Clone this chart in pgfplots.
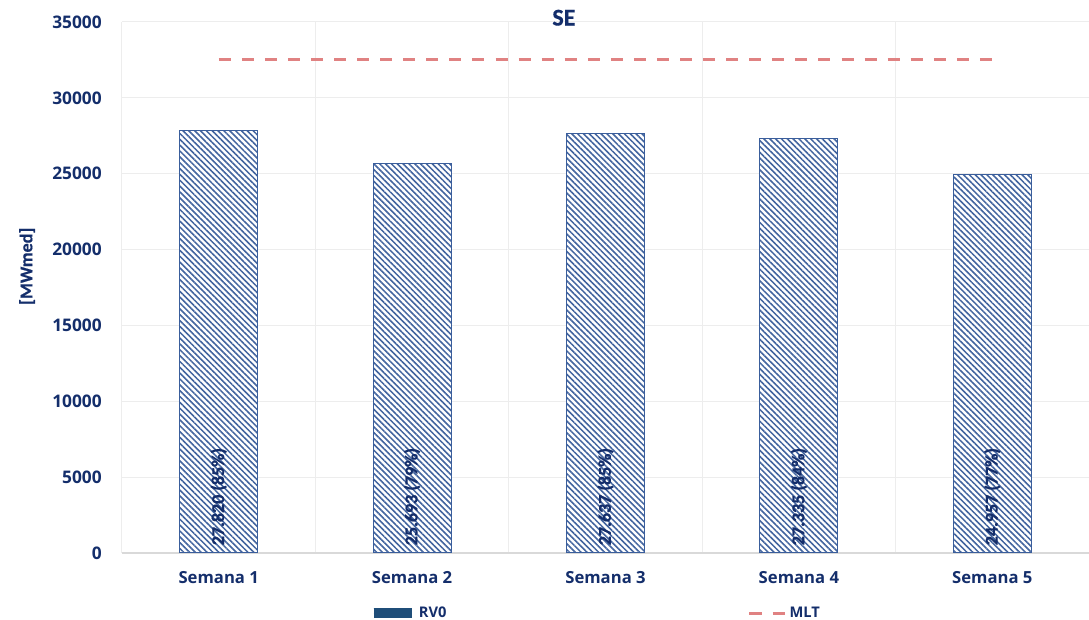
\documentclass[border=0pt]{standalone}
\usepackage{fontspec}
\setmainfont{Open Sans}
\newfontfamily\carlito{Carlito}[BoldFeatures={FakeBold=0.6}]
\usepackage{pgfplots}
\pgfplotsset{compat=1.18}
\usetikzlibrary{patterns.meta}
\definecolor{navy}{HTML}{142E6B}
\definecolor{barline}{HTML}{3A5E9C}
\definecolor{hatch}{HTML}{42649F}
\definecolor{rvfill}{HTML}{1F4E79}
\definecolor{mlt}{HTML}{E08282}
\definecolor{gridc}{HTML}{EDEDED}

\begin{document}
\begin{tikzpicture}
% 1 px of the reference = 0.75pt
\useasboundingbox (-91.5pt,-50.25pt) rectangle (725.25pt,414.75pt);
\begin{axis}[
  scale only axis, width=725.25pt, height=398.25pt,
  xmin=-0.5, xmax=4.5, ymin=0, ymax=35000,
  xtick={0,1,2,3,4},
  xticklabels={Semana 1,Semana 2,Semana 3,Semana 4,Semana 5},
  minor xtick={-0.5,0.5,1.5,2.5,3.5},
  ytick={0,5000,...,35000},
  scaled y ticks=false,
  /pgf/number format/.cd, 1000 sep={}, assume math mode=true, /pgfplots/.cd,
  ymajorgrids, xminorgrids,
  major grid style={gridc, line width=0.75pt},
  minor grid style={gridc, line width=0.75pt},
  major tick length=0pt, minor tick length=0pt,
  axis x line*=bottom, axis y line*=left,
  x axis line style={draw=black!15, line width=0.9pt},
  y axis line style={draw=none},
  tick label style={text=navy, inner sep=0pt},
  yticklabel style={font=\bfseries\fontsize{13}{15}\selectfont, xshift=-15pt},
  xticklabel style={font=\bfseries\fontsize{12.5}{15}\selectfont, yshift=-14pt},
  ylabel={[MWmed]},
  ylabel style={at={(-0.0982,0.54)}, anchor=center,
    font=\carlito\bfseries\fontsize{13.6}{16}\selectfont, text=navy},
  title={SE},
  title style={at={(0.457,0.993)}, anchor=center,
    font=\carlito\bfseries\fontsize{18}{20}\selectfont, text=navy},
  legend style={at={(0.49,-0.113)}, anchor=center, draw=none, fill=none,
    font=\bfseries\fontsize{11}{13}\selectfont, text=navy,
    legend columns=2,
    /tikz/every even column/.append style={column sep=224pt}},
  legend cell align=left,
]
\addplot[ybar, bar width=58.5pt, bar shift=0pt, draw=barline, line width=0.8pt,
  fill=white,
  postaction={pattern={Lines[angle=-45,distance=3.1pt,line width=1.15pt]}, pattern color=hatch},
  legend image code/.code={\draw[draw=rvfill, line width=6.8pt] (0pt,0pt) -- (28.5pt,0pt);}]
  coordinates {(0,27820) (1,25693) (2,27637) (3,27335) (4,24957)};
\addlegendentry{RV0}
\addplot[forget plot, draw=none, mark=none, point meta=explicit symbolic,
  nodes near coords,
  nodes near coords style={rotate=90, anchor=west, inner sep=0pt, text=navy,
    font=\carlito\bfseries\fontsize{13.5}{16}\selectfont}]
  coordinates {(0,500)[27.820 (85\%)] (1,500)[25.693 (79\%)] (2,500)[27.637 (85\%)]
               (3,500)[27.335 (84\%)] (4,500)[24.957 (77\%)]};
\addplot[mlt, line width=2.25pt, dash pattern=on 9pt off 8.3pt, mark=none,
  legend image code/.code={\draw[mlt, line width=2.25pt, dash pattern=on 9.5pt off 8pt] (0pt,0pt) -- (27pt,0pt);}]
  coordinates {(0,32500) (1,32500) (2,32500) (3,32500) (4,32500)};
\addlegendentry{MLT}
\end{axis}
\end{tikzpicture}
\end{document}
